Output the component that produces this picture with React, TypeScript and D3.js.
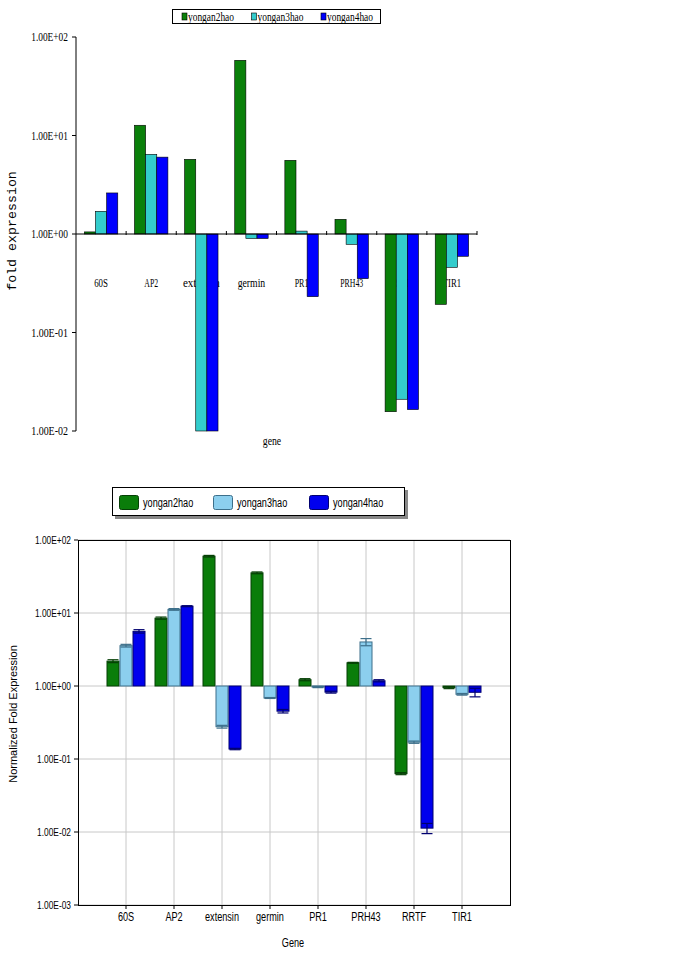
import React, { useEffect, useRef } from 'react';
import * as d3 from 'd3';

const genes = ['60S', 'AP2', 'extensin', 'germin', 'PR1', 'PRH43', 'RRTF', 'TIR1'];
const seriesNames = ['yongan2hao', 'yongan3hao', 'yongan4hao'];

// upper chart (fold expression)
const topYongan2 = [1.05, 12.7, 5.73, 58, 5.6, 1.41, 0.0157, 0.193];
const topYongan3 = [1.7, 6.44, 0.01, 0.9, 1.07, 0.786, 0.021, 0.459];
const topYongan4 = [2.61, 6.03, 0.01, 0.9, 0.231, 0.352, 0.0165, 0.594];
const topTicks = [100, 10, 1, 0.1, 0.01];

// lower chart (normalized fold expression, mean and error)
const botYongan2 = [2.19, 8.5, 60, 35.5, 1.22, 2.08, 0.063, 0.95];
const botYongan2Err = [0.1, 0.3, 1.5, 1, 0.04, 0.03, 0.002, 0.03];
const botYongan3 = [3.57, 11.2, 0.277, 0.685, 0.97, 4.01, 0.17, 0.77];
const botYongan3Err = [0.15, 0.3, 0.012, 0.01, 0.02, 0.45, 0.006, 0.02];
const botYongan4 = [5.61, 12.4, 0.137, 0.452, 0.824, 1.18, 0.0113, 0.82];
const botYongan4Err = [0.3, 0.2, 0.003, 0.025, 0.025, 0.04, 0.0018, 0.11];
const botTicks = [100, 10, 1, 0.1, 0.01, 0.001];

const topColors = ['#0a800a', '#33cccc', '#0000ff'];
const botColors = ['#0a7d0a', '#8ccfee', '#0000ee'];
const botStroke = ['#054005', '#3d6f8a', '#000070'];

const SERIF = "'Liberation Serif', 'DejaVu Serif', serif";
const SANS = "'Liberation Sans', 'DejaVu Sans', sans-serif";
const MONO = "'Liberation Mono', 'DejaVu Sans Mono', monospace";

const fmt = (v: number) => v.toExponential(2).toUpperCase().replace(/E([+-])(\d)$/, 'E$10$2');

const App = () => {
  const svgRef = useRef<SVGSVGElement | null>(null);

  useEffect(() => {
    const svg = d3.select(svgRef.current);
    svg.selectAll('*').remove();

    // ---------- upper chart ----------
    const top = svg.append('g');
    const topValues = [topYongan2, topYongan3, topYongan4];
    const yT = d3.scaleLog().domain([0.01, 100]).range([431, 37]);
    const xT = d3.scaleBand().domain(genes).range([76, 477]).paddingInner(0).paddingOuter(0);
    const xTs = d3.scaleBand().domain(seriesNames).range([0, xT.bandwidth()]).paddingInner(0).paddingOuter(0.75);

    // legend
    top.append('rect').attr('x', 172.5).attr('y', 9.5).attr('width', 208).attr('height', 14)
      .attr('fill', '#fff').attr('stroke', '#000');
    seriesNames.forEach((s, i) => {
      const lx = 182 + i * 69.5;
      top.append('rect').attr('x', lx).attr('y', 13).attr('width', 5).attr('height', 7)
        .attr('fill', topColors[i]).attr('stroke', '#000').attr('stroke-width', 0.6);
      top.append('text').attr('class', 'mono').attr('x', lx + 6).attr('y', 20.5)
        .attr('font-family', SERIF).attr('font-size', 12).text(s);
    });

    // y ticks
    topTicks.forEach((t) => {
      top.append('text').attr('class', 'mono').attr('x', 68).attr('y', yT(t) + 4)
        .attr('text-anchor', 'end').attr('font-family', SERIF).attr('font-size', 12).text(fmt(t));
      top.append('line').attr('x1', 72).attr('x2', 76).attr('y1', yT(t)).attr('y2', yT(t))
        .attr('stroke', '#000');
    });

    // category labels (drawn under bars)
    genes.forEach((g) => {
      top.append('text').attr('class', 'mono').attr('x', (xT(g) as number) + xT.bandwidth() / 2)
        .attr('y', 287).attr('text-anchor', 'middle').attr('font-family', SERIF)
        .attr('font-size', 12).text(g);
    });

    // bars
    seriesNames.forEach((s, i) => {
      top.append('g').selectAll('rect').data(topValues[i]).enter().append('rect')
        .attr('x', (d, j) => (xT(genes[j]) as number) + (xTs(s) as number))
        .attr('width', xTs.bandwidth())
        .attr('y', (d) => Math.min(yT(d), yT(1)))
        .attr('height', (d) => Math.abs(yT(d) - yT(1)))
        .attr('fill', topColors[i]).attr('stroke', '#000').attr('stroke-width', 0.6);
    });

    // axes lines
    top.append('line').attr('x1', 76).attr('x2', 76).attr('y1', 37).attr('y2', 431).attr('stroke', '#000');
    top.append('line').attr('x1', 76).attr('x2', 477).attr('y1', yT(1)).attr('y2', yT(1)).attr('stroke', '#000');
    genes.forEach((g) => {
      const bx = (xT(g) as number) + xT.bandwidth();
      top.append('line').attr('x1', bx).attr('x2', bx).attr('y1', yT(1) - 3).attr('y2', yT(1) + 1)
        .attr('stroke', '#000');
    });

    top.append('text').attr('class', 'mono').attr('x', 272).attr('y', 445).attr('text-anchor', 'middle')
      .attr('font-family', SERIF).attr('font-size', 12).text('gene');
    top.append('text').attr('transform', 'translate(16,231) rotate(-90)').attr('text-anchor', 'middle')
      .attr('font-family', MONO).attr('font-size', 13.3).text('fold expression');

    // ---------- lower chart ----------
    const bot = svg.append('g');
    const botValues = [botYongan2, botYongan3, botYongan4];
    const botErrs = [botYongan2Err, botYongan3Err, botYongan4Err];
    const L = 78, R = 510, T = 540, B = 905;
    const yB = d3.scaleLog().domain([0.001, 100]).range([B, T]);
    const xB = d3.scalePoint().domain(genes).range([L, R]).padding(1);
    const barW = 13;
    const xBs = d3.scaleBand().domain(seriesNames).range([-1.5 * barW, 1.5 * barW]);

    // legend with shadow
    bot.append('rect').attr('x', 115).attr('y', 490).attr('width', 293).attr('height', 29).attr('fill', '#888');
    bot.append('rect').attr('x', 112.5).attr('y', 487.5).attr('width', 292).attr('height', 28)
      .attr('fill', '#fff').attr('stroke', '#000');
    const legX = [119, 213, 309];
    seriesNames.forEach((s, i) => {
      bot.append('rect').attr('x', legX[i] + 0.5).attr('y', 495.5).attr('width', 19).attr('height', 14)
        .attr('rx', 2).attr('fill', botColors[i]).attr('stroke', botStroke[i]);
      bot.append('text').attr('class', 'sq').attr('x', legX[i] + 24).attr('y', 507)
        .attr('font-family', SANS).attr('font-size', 12).text(s);
    });

    // grid
    botTicks.forEach((t) => {
      bot.append('line').attr('x1', L).attr('x2', R).attr('y1', yB(t)).attr('y2', yB(t))
        .attr('stroke', '#c8c8c8');
      bot.append('line').attr('x1', L - 4).attr('x2', L).attr('y1', yB(t)).attr('y2', yB(t))
        .attr('stroke', '#000');
      bot.append('text').attr('class', 'sq').attr('x', 71).attr('y', yB(t) + 4).attr('text-anchor', 'end')
        .attr('font-family', SANS).attr('font-size', 11).text(fmt(t));
    });
    genes.forEach((g) => {
      const gx = xB(g) as number;
      bot.append('line').attr('x1', gx).attr('x2', gx).attr('y1', T).attr('y2', B).attr('stroke', '#c8c8c8');
      bot.append('line').attr('x1', gx).attr('x2', gx).attr('y1', B).attr('y2', B + 4).attr('stroke', '#000');
      bot.append('text').attr('class', 'sq').attr('x', gx).attr('y', 921).attr('text-anchor', 'middle')
        .attr('font-family', SANS).attr('font-size', 12).text(g);
    });

    // bars + error bars
    seriesNames.forEach((s, i) => {
      const grp = bot.append('g');
      botValues[i].forEach((v, j) => {
        const bx = (xB(genes[j]) as number) + (xBs(s) as number);
        const y0 = yB(1);
        const y1 = yB(v);
        grp.append('rect').attr('x', bx + 0.5).attr('width', barW - 1)
          .attr('y', Math.min(y0, y1)).attr('height', Math.max(1, Math.abs(y1 - y0)))
          .attr('fill', botColors[i]).attr('stroke', botStroke[i]).attr('stroke-width', 1);
        const e = botErrs[i][j];
        const ya = yB(v + e);
        const yb = yB(Math.max(v - e, 1e-4));
        const cx = bx + barW / 2;
        grp.append('line').attr('x1', cx).attr('x2', cx).attr('y1', ya).attr('y2', yb)
          .attr('stroke', botStroke[i]).attr('stroke-width', 1.2);
        [ya, yb].forEach((yy) => {
          grp.append('line').attr('x1', bx + 1).attr('x2', bx + barW - 1).attr('y1', yy).attr('y2', yy)
            .attr('stroke', botStroke[i]).attr('stroke-width', 1.2);
        });
      });
    });

    bot.append('rect').attr('x', L + 0.5).attr('y', T + 0.5).attr('width', R - L).attr('height', B - T)
      .attr('fill', 'none').attr('stroke', '#000');

    bot.append('text').attr('class', 'sq').attr('x', 293).attr('y', 947).attr('text-anchor', 'middle')
      .attr('font-family', SANS).attr('font-size', 12).text('Gene');
    bot.append('text').attr('transform', 'translate(17,714) rotate(-90)').attr('text-anchor', 'middle')
      .attr('font-family', SANS).attr('font-size', 11).text('Normalized Fold Expression');

    // the source picture is horizontally narrow: squeeze text widths
    svg.selectAll<SVGTextElement, unknown>('text.mono').each(function () {
      const n = (this.textContent || '').length;
      d3.select(this).attr('textLength', n * 4.6).attr('lengthAdjust', 'spacingAndGlyphs');
    });
    svg.selectAll<SVGTextElement, unknown>('text.sq').each(function () {
      const w = this.getComputedTextLength();
      d3.select(this).attr('textLength', w * 0.76).attr('lengthAdjust', 'spacingAndGlyphs');
    });
  }, []);

  return (
    <svg
      ref={svgRef}
      width={677}
      height={955}
      style={{ position: 'absolute', left: 0, top: 0, background: '#fff' }}
    />
  );
};

export default App;
